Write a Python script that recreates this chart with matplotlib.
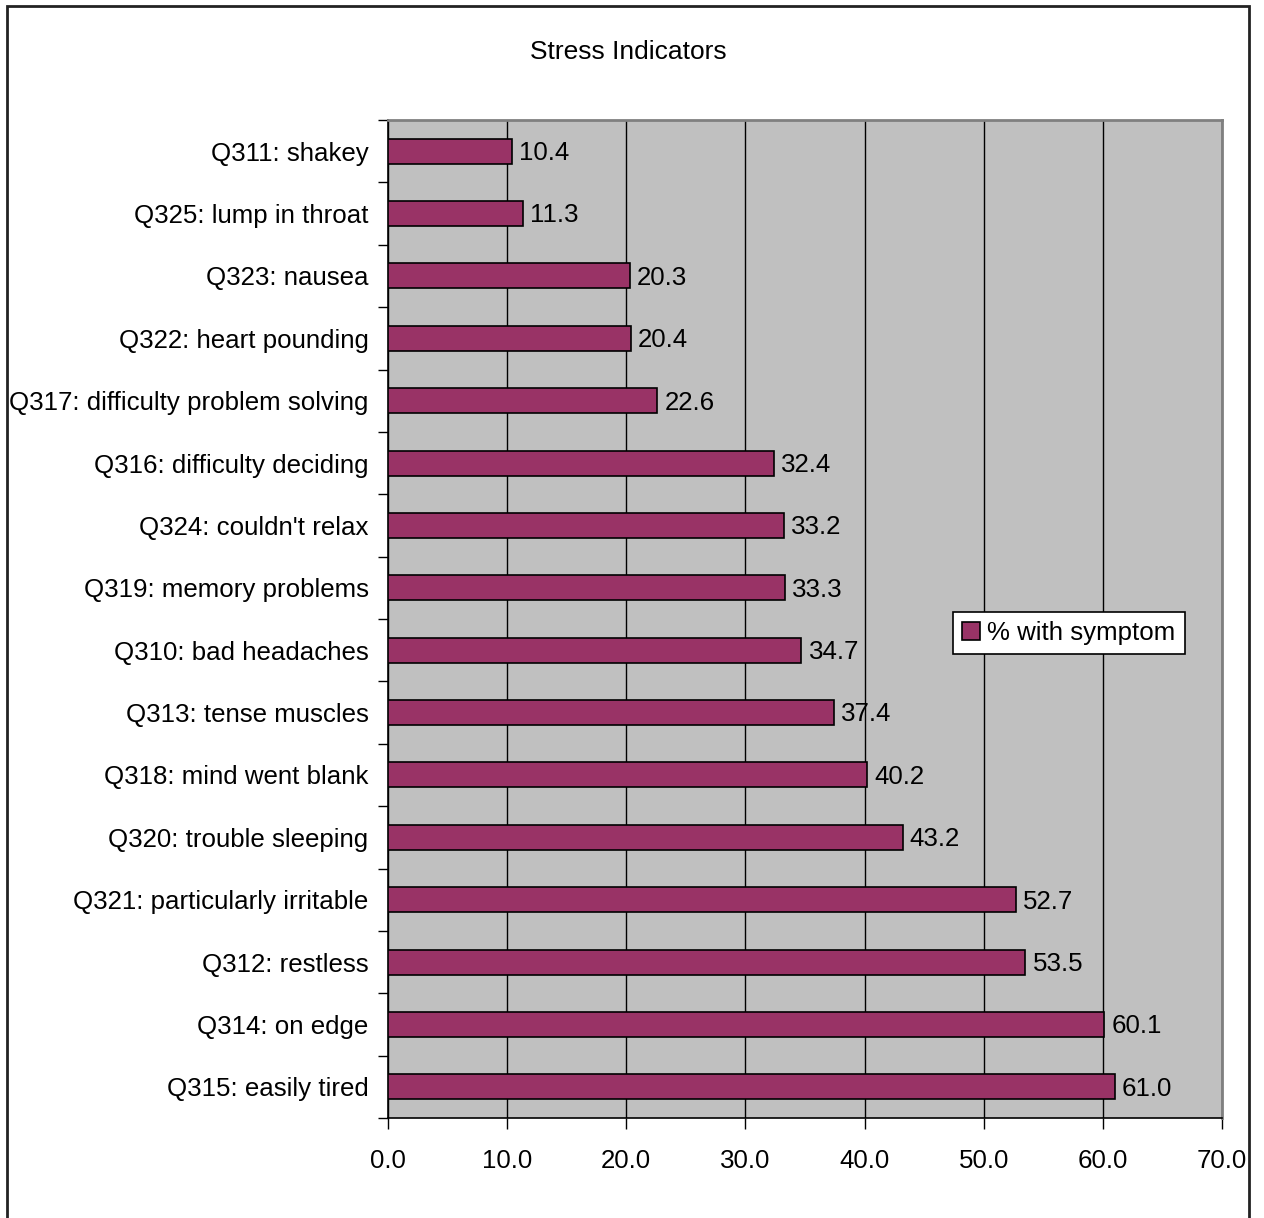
import numpy as np
import matplotlib.pyplot as plt
from matplotlib.patches import Rectangle

plt.rcParams['font.family'] = ['Liberation Sans', 'DejaVu Sans']

# datos
categorias = ['Q311: shakey', 'Q325: lump in throat', 'Q323: nausea',
              'Q322: heart pounding', 'Q317: difficulty problem solving',
              'Q316: difficulty deciding', "Q324: couldn't relax",
              'Q319: memory problems', 'Q310: bad headaches',
              'Q313: tense muscles', 'Q318: mind went blank',
              'Q320: trouble sleeping', 'Q321: particularly irritable',
              'Q312: restless', 'Q314: on edge', 'Q315: easily tired']
valores = [10.4, 11.3, 20.3, 20.4, 22.6, 32.4, 33.2, 33.3,
           34.7, 37.4, 40.2, 43.2, 52.7, 53.5, 60.1, 61.0]
x_ticks = [0, 10, 20, 30, 40, 50, 60, 70]

fs = 18.6

fig = plt.figure(figsize=(12.64, 12.18), dpi=100)
ax = fig.add_axes([388/1264, 1 - 1118/1218, (1222-388)/1264, (1118-120)/1218])

ax.set_facecolor('#C0C0C0')
y = np.arange(len(categorias))
ax.barh(y, valores, height=0.4, color='#993366', edgecolor='black',
        linewidth=1.2, label='% with symptom', zorder=3)

for yi, v in zip(y, valores):
    ax.text(v + 0.6, yi + 0.03, f'{v:.1f}', va='center', ha='left', fontsize=fs, zorder=4)

ax.set_xlim(0, 70)
ax.set_ylim(len(categorias) - 0.5, -0.5)
ax.set_xticks(x_ticks)
ax.set_xticklabels([f'{t:.1f}' for t in x_ticks], fontsize=fs)
ax.set_yticks(y)
ax.set_yticklabels(categorias, fontsize=fs)
ax.set_yticks(np.arange(-0.5, len(categorias)), minor=True)
ax.tick_params(axis='y', which='major', length=0, pad=14)
ax.tick_params(axis='y', which='minor', length=7, width=1, direction='out')
ax.tick_params(axis='x', which='major', length=8, width=1, direction='out', pad=14)

ax.grid(axis='x', color='black', linewidth=1, zorder=1)
ax.set_axisbelow(True)

for s in ['top', 'right']:
    ax.spines[s].set_color('#808080')
    ax.spines[s].set_linewidth(2)
for s in ['left', 'bottom']:
    ax.spines[s].set_color('black')
    ax.spines[s].set_linewidth(1.2)

leg = ax.legend(loc='center left', bbox_to_anchor=(0.677, 0.486), fontsize=fs,
                fancybox=False, framealpha=1, edgecolor='black',
                handlelength=0.7, handleheight=0.7, handletextpad=0.3,
                borderpad=0.35, borderaxespad=0)
leg.get_frame().set_linewidth(1.2)

fig.text(628/1264, 1 - 52/1218, 'Stress Indicators', ha='center', va='center', fontsize=19)

# marco exterior
fig.patches.append(Rectangle((7/1264, -0.01), (1249-7)/1264, 1.01 - 6/1218,
                             transform=fig.transFigure, fill=False,
                             edgecolor='#222222', linewidth=2, clip_on=False))

plt.savefig('out.png', dpi=100)
